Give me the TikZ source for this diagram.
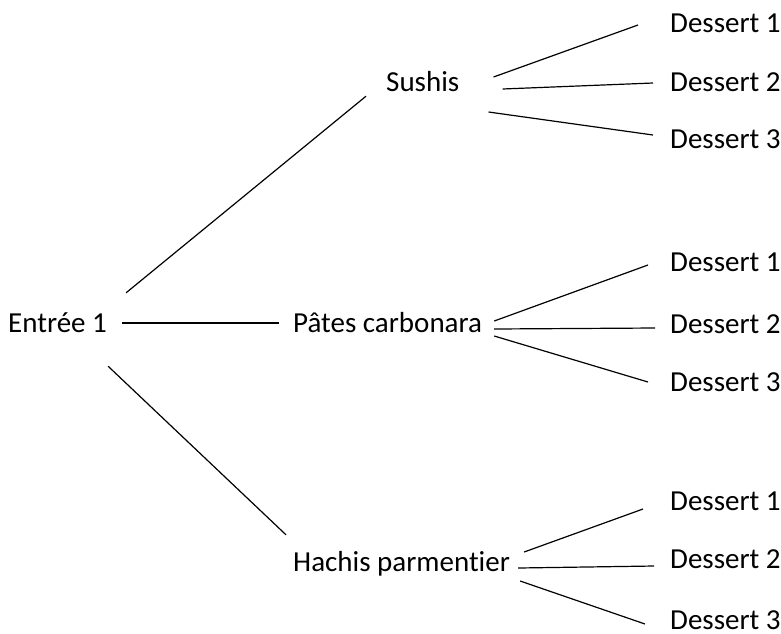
\documentclass[tikz,border=0pt]{standalone}
\usepackage{fontspec}
\setmainfont[Ligatures=NoCommon]{Carlito}
\begin{document}
\begin{tikzpicture}[x=1pt, y=-1pt,
  lbl/.style={anchor=base west, inner sep=0pt, text height=20pt, text depth=6pt, font=\fontsize{29}{35}\selectfont},
  branch/.style={line width=1.2pt}]
\useasboundingbox (0,0) rectangle (781,633);
% menu
\node[lbl] (e) at (8,332) {Entrée 1};
\node[lbl] (s) at (386,91) {Sushis};
\node[lbl] (p) at (293,332) {Pâtes carbonara};
\node[lbl] (h) at (293,571) {Hachis parmentier};
\foreach \g/\ya/\yb/\yc in {s/32/91/148, p/271/333/391, h/510/568/629}{
  \node[lbl] (\g1) at (670,\ya) {Dessert 1};
  \node[lbl] (\g2) at (670,\yb) {Dessert 2};
  \node[lbl] (\g3) at (670,\yc) {Dessert 3};
}
% plats
\draw[branch] ([shift={(19,-19)}]e.north east) -- ([shift={(-20,-1)}]s.south west);
\draw[branch] ([shift={(15,-2)}]e.east) -- ([shift={(-14,-2)}]p.west);
\draw[branch] ([shift={(1,28)}]e.south east) -- ([shift={(-7,-16)}]h.north west);
% desserts
\draw[branch] ([shift={(34,-7)}]s.east) -- ([shift={(-32,0)}]s1.west);
\draw[branch] ([shift={(43,5)}]s.east) -- ([shift={(-17,-1)}]s2.west);
\draw[branch] ([shift={(29,28)}]s.east) -- ([shift={(-17,-6)}]s3.west);
\draw[branch] ([shift={(12,-4)}]p.east) -- ([shift={(-22,1)}]p1.west);
\draw[branch] ([shift={(12,4)}]p.east) -- ([shift={(-15,2)}]p2.west);
\draw[branch] ([shift={(12,11)}]p.east) -- ([shift={(-22,-2)}]p3.west);
\draw[branch] ([shift={(14,-12)}]h.east) -- ([shift={(-27,6)}]h1.west);
\draw[branch] ([shift={(8,4)}]h.east) -- ([shift={(-16,5)}]h2.west);
\draw[branch] ([shift={(10,17)}]h.east) -- ([shift={(-25,2)}]h3.west);
\end{tikzpicture}
\end{document}
